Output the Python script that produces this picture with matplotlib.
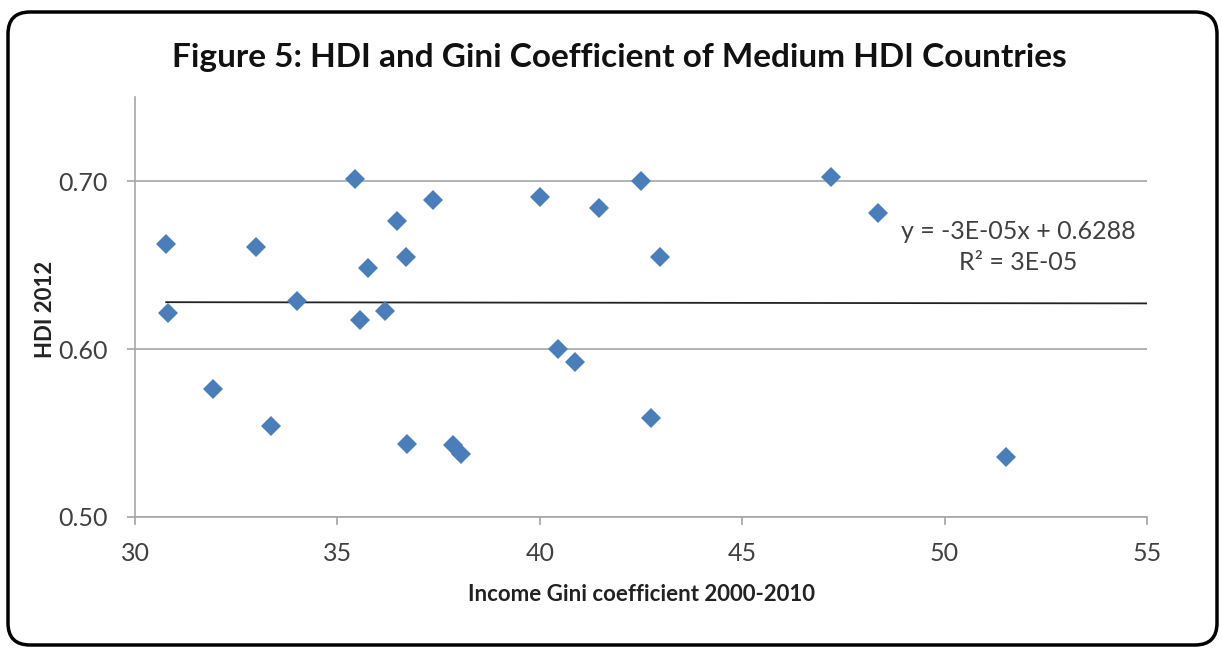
import numpy as np
import matplotlib
matplotlib.use('Agg')
import matplotlib.pyplot as plt
from matplotlib.patches import FancyBboxPatch

#%% Data
gini = [30.77, 30.82, 31.93, 32.99, 33.36, 34.0, 35.43, 35.56, 35.76, 36.18,
        36.47, 36.69, 36.72, 37.36, 37.86, 38.05, 40.0, 40.45, 40.87, 41.46,
        42.5, 42.75, 42.97, 47.19, 48.35, 51.52]
hdi = [0.6625, 0.6214, 0.5762, 0.6607, 0.5542, 0.6286, 0.7012, 0.6173, 0.6482, 0.6226,
       0.6762, 0.6548, 0.5435, 0.6887, 0.5429, 0.5375, 0.6905, 0.6000, 0.5923, 0.6839,
       0.7000, 0.5589, 0.6548, 0.7024, 0.6810, 0.5357]

# trendline as stated on the chart
slope = -3e-05
intercept = 0.6288

x_ticks = [30, 35, 40, 45, 50, 55]
y_ticks = [0.50, 0.60, 0.70]

#%% Plot
plt.rcParams['font.family'] = ['Lato', 'DejaVu Sans']
txt_col = '#404040'
grid_col = '#a6a6a6'

fig = plt.figure(figsize=(12.22, 6.49), dpi=100)
ax = fig.add_axes([0.1105, 0.2034, 0.8281, 0.6471])

ax.yaxis.grid(True, color=grid_col, linewidth=1.2)
ax.set_axisbelow(True)

x_line = np.array([min(gini), 55])
ax.plot(x_line, slope*x_line + intercept, color='#222222', linewidth=1.3, zorder=2)

ax.plot(gini, hdi, linestyle='none', marker='D', markersize=10,
        color='#4a7ebb', markeredgewidth=0, zorder=3)

ax.set_xlim(30, 55)
ax.set_ylim(0.50, 0.75)
ax.set_xticks(x_ticks)
ax.set_yticks(y_ticks)
ax.set_xticklabels([str(v) for v in x_ticks])
ax.set_yticklabels(['%.2f' % v for v in y_ticks])

for side in ['top', 'right']:
    ax.spines[side].set_visible(False)
for side in ['left', 'bottom']:
    ax.spines[side].set_color(grid_col)
    ax.spines[side].set_linewidth(1.2)
ax.tick_params(axis='both', colors=grid_col, length=6, width=1.2,
               labelsize=18, labelcolor=txt_col)
ax.tick_params(axis='x', pad=12)
ax.tick_params(axis='y', pad=14)

ax.set_xlabel('Income Gini coefficient 2000-2010', fontsize=16, fontweight='bold',
              color='#222222', labelpad=14)
ax.set_ylabel('HDI 2012', fontsize=16, fontweight='bold', color='#222222')
ax.yaxis.set_label_coords(-0.078, 0.495)

ax.text(51.83, 0.6700, 'y = -3E-05x + 0.6288', fontsize=18, color=txt_col,
        ha='center', va='center')
ax.text(51.83, 0.6512, 'R² = 3E-05', fontsize=18, color=txt_col,
        ha='center', va='center')

fig.text(0.507, 0.912, 'Figure 5: HDI and Gini Coefficient of Medium HDI Countries',
         fontsize=24, fontweight='bold', color='#111111', ha='center', va='center')

# rounded outer border
border = FancyBboxPatch((0.30, 0.26), 11.65, 5.89,
                        boxstyle='round,pad=0.22,rounding_size=0.22',
                        transform=fig.dpi_scale_trans, fill=False,
                        edgecolor='black', linewidth=2.5)
fig.patches.append(border)

fig.savefig('out.png', dpi=100)
